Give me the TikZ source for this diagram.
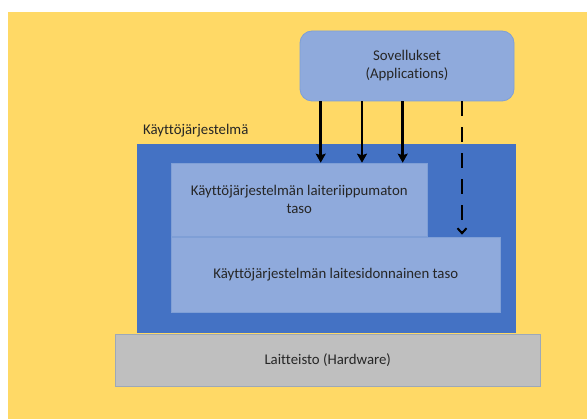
\documentclass[tikz,border=0pt]{standalone}
\usepackage{fontspec}
\setmainfont{Carlito}[Ligatures=NoCommon]
\usepackage{xcolor}
\usetikzlibrary{arrows.meta,positioning}

\definecolor{bgyellow}{HTML}{FFD966}
\definecolor{osblue}{HTML}{4472C4}
\definecolor{layerblue}{HTML}{8FAADC}
\definecolor{edgeblue}{HTML}{7F9FD6}
\definecolor{hwgray}{HTML}{BFBFBF}
\definecolor{hwedge}{HTML}{9DA8B8}
\definecolor{txt}{HTML}{262626}

\begin{document}
\begin{tikzpicture}[x=1pt,y=-1pt,
  nodes={text=txt,font=\fontsize{14.8}{18}\selectfont,align=center,inner sep=0pt},
  layer/.style={rectangle,fill=layerblue,draw=edgeblue,line width=0.6pt},
  call/.style={line width=2.8pt,-{Stealth[length=9pt,width=10pt,inset=1.5pt]}},
  direct/.style={line width=2.8pt,dash pattern=on 14.5pt off 11.5pt,-{Straight Barb[length=5pt,width=9pt,line width=2pt]}}]
 \useasboundingbox (0,0) rectangle (587,419);
 \fill[white] (0,0) rectangle (587,419);
 \fill[bgyellow] (7.5,11.7) rectangle (587,419);

 % kerrokset
 \node[rectangle,fill=osblue,minimum width=379pt,minimum height=189pt] (os) at (326.5,238.5) {};
 \node[anchor=west] (oslabel) at (143,131) {Käyttöjärjestelmä};
 \node[layer,minimum width=255.5pt,minimum height=73.5pt] (upper) at (299.25,199.75) {Käyttöjärjestelmän laiteriippumaton\\taso};
 \node[layer,minimum width=328.5pt,minimum height=75pt] (lower) at (335.75,274.5) {Käyttöjärjestelmän laitesidonnainen taso};
 \node[rectangle,fill=hwgray,draw=hwedge,line width=0.6pt,minimum width=425.5pt,minimum height=52pt] (hw) at (327.75,360) {Laitteisto (Hardware)};
 \node[rectangle,rounded corners=12pt,fill=layerblue,draw=edgeblue,line width=0.8pt,minimum width=214pt,minimum height=70pt] (apps) at (407,66) {Sovellukset\\(Applications)};

 % kutsut
 \foreach \dx in {-86.3,-45,-4.3}
  \draw[call] ([xshift=\dx pt]apps.south) -- ([xshift=\dx pt]apps.south |- upper.north);
 \draw[direct] ([xshift=55pt]apps.south) -- ([xshift=55pt,yshift=2pt]apps.south |- lower.north);
\end{tikzpicture}
\end{document}
